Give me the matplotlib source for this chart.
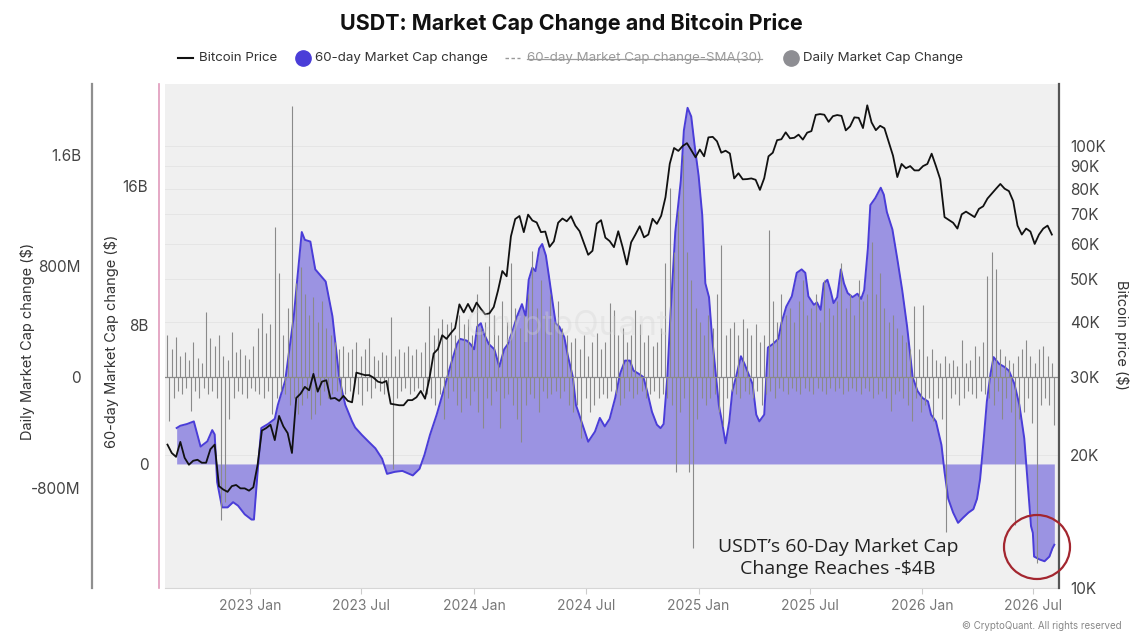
import matplotlib
matplotlib.use("Agg")
import matplotlib.pyplot as plt
import pandas as pd
import numpy as np
from matplotlib.lines import Line2D
from matplotlib.patches import Ellipse
from matplotlib.ticker import NullLocator
from matplotlib.transforms import blended_transform_factory

plt.rcParams['font.family'] = ['Inter', 'DejaVu Sans']

# ---------------- DATA ----------------
# Weekly Bitcoin price (USD thousands), starting 2022-08-19, every 7 days
btc_start = "2022-08-19"
btc_price_k = [
    # 2022
    21.1, 20.2, 19.8, 21.4, 19.7, 19.0, 19.4, 19.5, 19.2, 19.2, 20.6, 21.1, 17.0, 16.7, 16.5, 17.0, 17.1, 16.8, 16.8, 16.6,
    # 2023
    16.9, 19.0, 22.7, 23.0, 23.4, 21.6, 24.5, 23.2, 22.4, 20.2, 26.9, 27.5, 28.5, 28.0, 30.5, 27.8, 29.3, 29.5, 26.8, 26.9,
    26.5, 27.2, 26.5, 26.3, 30.7, 30.5, 30.3, 30.3, 29.9, 29.3, 29.1, 29.4, 26.1, 26.0, 25.9, 25.9, 26.6, 26.6, 27.0, 27.9,
    26.8, 29.7, 33.9, 34.7, 37.3, 36.6, 37.7, 38.7, 43.8, 42.0, 43.9, 42.1,
    # 2024
    44.2, 42.8, 41.6, 41.8, 43.2, 47.1, 52.1, 50.7, 62.4, 68.3, 69.4, 63.8, 69.9, 67.8, 67.1, 63.8, 64.0, 59.1, 60.8, 67.0,
    68.5, 67.5, 69.3, 66.0, 64.1, 60.3, 56.7, 57.9, 66.7, 67.9, 62.0, 60.9, 59.0, 64.1, 59.1, 53.9, 60.5, 63.0, 65.8, 62.1,
    63.0, 68.4, 66.6, 69.5, 76.5, 91.1, 98.9, 97.4, 99.9, 101.4, 97.8, 94.2,
    # 2025
    98.1, 94.7, 104.5, 104.8, 102.4, 96.5, 97.5, 96.1, 84.4, 86.7, 84.0, 84.1, 84.4, 83.8, 79.5, 84.5, 94.7, 96.5, 103.0, 103.5,
    107.3, 104.0, 104.3, 106.0, 103.3, 107.1, 108.0, 117.5, 118.0, 117.6, 113.3, 116.7, 117.4, 116.9, 108.4, 110.7, 116.0, 115.7, 109.7, 123.5,
    113.0, 108.5, 111.0, 109.6, 102.0, 95.0, 85.0, 91.0, 89.0, 90.0, 88.0, 88.0,
    # 2026
    90.0, 91.0, 96.0, 90.0, 84.0, 69.0, 68.0, 67.0, 65.0, 70.0, 71.0, 70.0, 69.0, 72.0, 73.0, 76.0, 78.0, 80.0, 82.0, 80.0,
    79.0, 75.0, 66.0, 63.0, 65.0, 64.0, 60.0, 63.0, 65.0, 66.0, 63.0,
]

# Daily market cap change (USD millions): largest inflow / outflow bar of each week
daily_up_m = [
    300, 200, 290, 150, 180, 120, 250, 140, 100, 470, 280, 220, 300, 150, 120, 325, 180, 200, 160, 130,
    220, 350, 460, 320, 380, 1080, 750, 300, 500, 1950, 680, 790, 600, 450, 580, 400, 550, 350, 300, 250,
    200, 220, 180, 200, 250, 150, 200, 280, 150, 120, 180, 160, 435, 150, 200, 180, 220, 160, 200, 180,
    250, 510, 300, 350, 420, 380, 400, 300, 450, 380, 420, 300, 600, 350, 400, 800, 450, 300, 550, 400,
    820, 500, 350, 450, 600, 910, 500, 700, 450, 600, 400, 550, 350, 300, 250, 280, 200, 300, 150, 250,
    320, 200, 250, 530, 480, 300, 350, 250, 300, 480, 380, 250, 300, 220, 250, 350, 825, 1360, 900, 1200,
    1600, 900, 700, 500, 400, 300, 450, 350, 600, 950, 300, 350, 400, 300, 420, 350, 300, 380, 250, 300,
    1060, 550, 400, 600, 450, 500, 400, 550, 700, 450, 500, 600, 400, 700, 500, 450, 550, 825, 500, 600,
    450, 700, 550, 600, 970, 600, 750, 500, 400, 450, 350, 300, 250, 200, 510, 200, 520, 150, 200, 120,
    100, 150, 100, 120, 80, 270, 100, 120, 220, 150, 250, 730, 900, 780, 200, 150, 120, 100, 150, 200,
    270, 150, 100, 200, 220, 150, 100,
]
daily_down_m = [
    -320, -150, -100, -120, -80, -245, -100, -150, -80, -120, -100, -150, -1030, -900, -300, -150, -100, -120, -150, -80,
    -100, -120, -150, -100, -270, -150, -100, -120, -200, -150, -270, -200, -150, -300, -270, -200, -100, -150, -120, -100,
    -150, -120, -100, -80, -120, -200, -100, -150, -80, -100, -120, -100, -660, -150, -100, -80, -120, -100, -80, -100,
    -120, -150, -200, -120, -300, -150, -100, -200, -250, -150, -200, -100, -250, -370, -150, -200, -100, -370, -150, -120,
    -200, -300, -465, -200, -120, -150, -250, -100, -150, -120, -100, -150, -100, -200, -250, -200, -440, -150, -250, -200,
    -150, -120, -150, -100, -120, -200, -150, -100, -150, -120, -100, -150, -120, -100, -150, -120, -150, -200, -685, -250,
    -150, -685, -1230, -300, -150, -200, -150, -120, -250, -350, -150, -100, -120, -150, -100, -120, -150, -100, -200, -120,
    -100, -150, -80, -100, -120, -80, -100, -120, -80, -100, -120, -80, -100, -120, -80, -100, -80, -120, -100, -80,
    -100, -120, -80, -100, -150, -120, -100, -150, -245, -120, -100, -150, -200, -320, -150, -250, -200, -150, -320, -150,
    -300, -1120, -150, -120, -200, -150, -100, -120, -150, -100, -120, -150, -200, -100, -300, -150, -250, -1070, -300, -250,
    -150, -330, -1340, -200, -150, -200, -345,
]

# 60-day market cap change (USD billions)
mcap60_dates = [
    "2022-09-03", "2022-09-09", "2022-09-20", "2022-10-01", "2022-10-12", "2022-10-23", "2022-10-31", "2022-11-04",
    "2022-11-08", "2022-11-16", "2022-11-25", "2022-12-04", "2022-12-12", "2022-12-23", "2023-01-03", "2023-01-07",
    "2023-01-14", "2023-01-19", "2023-01-30", "2023-02-10", "2023-02-15", "2023-02-27", "2023-03-13", "2023-03-18",
    "2023-03-26", "2023-03-31", "2023-04-09", "2023-04-17", "2023-05-04", "2023-05-15", "2023-05-20", "2023-05-26",
    "2023-06-01", "2023-06-05", "2023-06-16", "2023-06-21", "2023-07-02", "2023-07-13", "2023-07-24", "2023-08-04",
    "2023-08-12", "2023-08-25", "2023-09-06", "2023-09-23", "2023-10-04", "2023-10-12", "2023-10-21", "2023-11-01",
    "2023-11-12", "2023-11-23", "2023-12-04", "2023-12-09", "2023-12-20", "2023-12-26", "2024-01-01", "2024-01-06",
    "2024-01-12", "2024-01-17", "2024-01-25", "2024-02-03", "2024-02-11", "2024-02-19", "2024-02-25", "2024-03-04",
    "2024-03-11", "2024-03-19", "2024-03-25", "2024-03-30", "2024-04-05", "2024-04-10", "2024-04-16", "2024-04-21",
    "2024-04-27", "2024-05-02", "2024-05-08", "2024-05-13", "2024-05-19", "2024-05-27", "2024-06-02", "2024-06-10",
    "2024-06-15", "2024-06-24", "2024-07-05", "2024-07-16", "2024-07-24", "2024-08-01", "2024-08-09", "2024-08-18",
    "2024-08-26", "2024-09-03", "2024-09-11", "2024-09-17", "2024-09-25", "2024-10-03", "2024-10-09", "2024-10-17",
    "2024-10-25", "2024-10-31", "2024-11-05", "2024-11-11", "2024-11-16", "2024-11-24", "2024-12-03", "2024-12-08",
    "2024-12-14", "2024-12-20", "2024-12-26", "2025-01-01", "2025-01-07", "2025-01-12", "2025-01-18", "2025-01-23",
    "2025-01-29", "2025-02-03", "2025-02-09", "2025-02-14", "2025-02-20", "2025-02-25", "2025-03-03", "2025-03-11",
    "2025-03-17", "2025-03-22", "2025-03-30", "2025-04-05", "2025-04-10", "2025-04-18", "2025-04-24", "2025-05-02",
    "2025-05-11", "2025-05-16", "2025-05-24", "2025-06-02", "2025-06-10", "2025-06-18", "2025-06-24", "2025-06-29",
    "2025-07-08", "2025-07-13", "2025-07-19", "2025-07-24", "2025-07-30", "2025-08-04", "2025-08-09", "2025-08-15",
    "2025-08-21", "2025-08-26", "2025-09-01", "2025-09-09", "2025-09-17", "2025-09-23", "2025-09-28", "2025-10-04",
    "2025-10-08", "2025-10-16", "2025-10-25", "2025-10-30", "2025-11-04", "2025-11-13", "2025-11-21", "2025-11-29",
    "2025-12-07", "2025-12-16", "2025-12-24", "2026-01-01", "2026-01-10", "2026-01-15", "2026-01-23", "2026-02-01",
    "2026-02-06", "2026-02-12", "2026-02-20", "2026-02-28", "2026-03-08", "2026-03-17", "2026-03-25", "2026-03-31",
    "2026-04-05", "2026-04-11", "2026-04-16", "2026-04-22", "2026-04-27", "2026-05-06", "2026-05-14", "2026-05-22",
    "2026-05-31", "2026-06-08", "2026-06-16", "2026-06-22", "2026-06-27", "2026-06-30", "2026-07-02", "2026-07-11",
    "2026-07-19", "2026-07-27", "2026-08-01", "2026-08-04",
]
mcap60_bn = [
    2.07, 2.2, 2.3, 2.45, 1.0, 1.3, 1.95, 1.7,
    -1.04, -2.5, -2.5, -2.2, -2.4, -2.9, -3.2, -3.2,
    0.0, 2.07, 2.3, 2.6, 3.4, 4.8, 8.5, 10.4,
    13.35, 12.9, 12.8, 11.2, 10.5, 8.5, 6.9, 5.0,
    4.0, 3.4, 2.45, 2.1, 1.67, 1.28, 0.9, 0.3,
    -0.57, -0.45, -0.4, -0.66, -0.28, 0.52, 1.67, 2.84,
    4.2, 5.6, 6.9, 7.2, 7.1, 6.9, 6.6, 7.9,
    8.1, 7.5, 6.9, 6.6, 5.6, 6.6, 6.9, 7.7,
    8.5, 9.2, 8.5, 10.6, 11.3, 11.1, 12.4, 12.66,
    12.0, 10.8, 9.3, 8.1, 7.9, 7.3, 6.2, 5.0,
    3.4, 2.45, 1.28, 1.86, 2.65, 2.16, 2.6, 3.8,
    5.2, 5.95, 5.95, 5.37, 5.2, 5.0, 4.2, 3.0,
    2.26, 2.06, 2.3, 5.0, 8.5, 13.35, 16.3, 19.2,
    20.5, 20.0, 18.2, 16.6, 14.3, 10.4, 9.6, 7.3,
    5.2, 3.4, 2.26, 1.19, 2.45, 4.2, 5.0, 6.2,
    5.75, 5.3, 4.6, 2.84, 2.45, 2.84, 6.7, 6.9,
    7.2, 8.1, 9.06, 9.65, 11.0, 11.2, 11.0, 9.65,
    9.16, 9.3, 8.87, 10.4, 10.6, 10.0, 9.26, 9.6,
    11.2, 10.4, 9.84, 9.6, 9.8, 9.5, 10.0, 12.4,
    14.9, 15.3, 15.9, 15.5, 14.5, 13.5, 11.8, 10.0,
    7.9, 5.0, 4.2, 3.8, 3.6, 2.84, 2.45, 1.09,
    -0.46, -2.0, -2.8, -3.39, -3.1, -2.8, -2.6, -2.0,
    -0.86, 1.47, 3.6, 5.2, 6.15, 5.76, 5.6, 5.37,
    4.6, 3.4, 1.47, -1.25, -3.58, -3.97, -5.33, -5.5,
    -5.6, -5.33, -4.85, -4.65,
]

x_tick_dates = ["2023-01-01", "2023-07-01", "2024-01-01", "2024-07-01",
                "2025-01-01", "2025-07-01", "2026-01-01", "2026-07-01"]
x_tick_labels = ["2023 Jan", "2023 Jul", "2024 Jan", "2024 Jul",
                 "2025 Jan", "2025 Jul", "2026 Jan", "2026 Jul"]
price_ticks = [10e3, 20e3, 30e3, 40e3, 50e3, 60e3, 70e3, 80e3, 90e3, 100e3]
price_tick_labels = ["10K", "20K", "30K", "40K", "50K", "60K", "70K", "80K", "90K", "100K"]
daily_ticks = [-800e6, 0, 800e6, 1.6e9]
daily_tick_labels = ["-800M", "0", "800M", "1.6B"]
mcap_ticks = [0, 8e9, 16e9]
mcap_tick_labels = ["0", "8B", "16B"]

# ---------------- FIGURE ----------------
W, H = 1134, 637
fig = plt.figure(figsize=(W / 100, H / 100), dpi=100)
fig.patch.set_facecolor("white")

def fx(px):
    return px / W

def fy(py):
    return 1 - py / H

L, R, T, B = 165, 1058, 84, 588
ax60 = fig.add_axes([fx(L), fy(B), (R - L) / W, (B - T) / H])
ax60.set_facecolor("#f0f0f0")
axd = ax60.twinx()
axp = ax60.twinx()

btc_dates = pd.date_range(btc_start, periods=len(btc_price_k), freq="7D")
up_dates = pd.date_range(btc_start, periods=len(daily_up_m), freq="7D")
down_dates = up_dates + pd.Timedelta(days=3)
m_dates = pd.to_datetime(mcap60_dates)
m_vals = np.array(mcap60_bn) * 1e9

# 60-day fill
PURPLE_FILL = "#9b93e2"
PURPLE_LINE = "#4a3dd8"
ax60.fill_between(m_dates, 0, m_vals, color=PURPLE_FILL, lw=0, zorder=2)
ax60.plot(m_dates, m_vals, color=PURPLE_LINE, lw=1.4, zorder=3)
ax60.set_ylim(-7.14e9, 21.87e9)

# Daily bars
GREY = "#8a8a8a"
axd.vlines(up_dates, 0, np.array(daily_up_m) * 1e6, color=GREY, lw=0.8, zorder=2)
axd.vlines(down_dates, np.array(daily_down_m) * 1e6, 0, color=GREY, lw=0.8, zorder=2)
axd.axhline(0, color=GREY, lw=0.9, zorder=1)
axd.set_ylim(-1.521e9, 2.112e9)

# Bitcoin price
axp.plot(btc_dates, np.array(btc_price_k) * 1e3, color="#111111", lw=1.3, zorder=4)
axp.set_yscale("log")
axp.set_ylim(10e3, 138e3)
axp.set_yticks(price_ticks)
axp.set_yticklabels(price_tick_labels)
axp.yaxis.set_minor_locator(NullLocator())

# faint horizontal grid on price ticks, behind fill
tr = blended_transform_factory(ax60.transAxes, axp.transData)
for v in price_ticks[1:]:
    ax60.plot([0, 1], [v, v], transform=tr, color="#e5e5e5", lw=0.7, zorder=1)

# x axis
ax60.set_xlim(pd.Timestamp("2022-08-15"), pd.Timestamp("2026-08-10"))
ax60.set_xticks(pd.to_datetime(x_tick_dates))
ax60.set_xticklabels(x_tick_labels)
ax60.tick_params(axis="x", colors="#cccccc", labelcolor="#777777", labelsize=10, length=4, pad=4)

# Spines & y axes
for a in (ax60, axd, axp):
    for s in a.spines.values():
        s.set_visible(False)
ax60.spines["bottom"].set_visible(True)
ax60.spines["bottom"].set_color("#d6d6d6")

ax60.spines["left"].set_visible(True)
ax60.spines["left"].set_position(("outward", 4))
ax60.spines["left"].set_color("#e09abb")
ax60.spines["left"].set_linewidth(1.2)
ax60.set_yticks(mcap_ticks)
ax60.set_yticklabels(mcap_tick_labels)
ax60.tick_params(axis="y", length=0, pad=8, labelsize=11, labelcolor="#444444")
ax60.set_ylabel("60-day Market Cap change ($)", fontsize=10.5, color="#333333")
ax60.yaxis.set_label_coords(-0.0515, 0.49)

axd.yaxis.set_label_position("left")
axd.yaxis.tick_left()
axd.spines["left"].set_visible(True)
axd.spines["left"].set_position(("outward", 52.5))
axd.spines["left"].set_color("#8f8f8f")
axd.spines["left"].set_linewidth(1.6)
axd.set_yticks(daily_ticks)
axd.set_yticklabels(daily_tick_labels)
axd.tick_params(axis="y", length=0, pad=8, labelsize=11, labelcolor="#444444")
axd.set_ylabel("Daily Market Cap change ($)", fontsize=10.5, color="#333333")
axd.yaxis.set_label_coords(-0.146, 0.49)

axp.spines["right"].set_visible(True)
axp.spines["right"].set_position(("outward", 0.5))
axp.spines["right"].set_color("#555555")
axp.spines["right"].set_linewidth(1.6)
axp.tick_params(axis="y", length=0, pad=8, labelsize=11, labelcolor="#444444")
axp.set_ylabel("Bitcoin price ($)", fontsize=10.5, color="#333333", rotation=270)
axp.yaxis.set_label_coords(1.0796, 0.502)

# watermark
axp.text(0.45, 0.52, "CryptoQuant", transform=axp.transAxes, fontsize=24,
         color="#d4d4d4", alpha=0.35, ha="center", va="center", zorder=5)

# Title
fig.text(fx(571), fy(24), "USDT: Market Cap Change and Bitcoin Price", ha="center", va="center",
         fontsize=15.5, fontweight="bold", color="#111111")

# Legend (manual)
ly = fy(58)
LFS = 9.6
fig.add_artist(Line2D([fx(178), fx(193)], [ly, ly], color="#111111", lw=1.5, transform=fig.transFigure))
fig.text(fx(199), ly, "Bitcoin Price", va="center", ha="left", fontsize=LFS, color="#333333")
fig.add_artist(Line2D([fx(303)], [ly], marker="o", ms=11, color=PURPLE_LINE, lw=0, transform=fig.transFigure))
fig.text(fx(315), ly, "60-day Market Cap change", va="center", ha="left", fontsize=LFS, color="#333333")
fig.add_artist(Line2D([fx(505), fx(520)], [ly, ly], color="#999999", lw=1.0, ls=(0, (2.5, 1.8)),
                      transform=fig.transFigure))
t_sma = fig.text(fx(527), ly, "60-day Market Cap change-SMA(30)", va="center", ha="left",
                 fontsize=LFS, color="#9a9a9a")
fig.add_artist(Line2D([fx(791)], [ly], marker="o", ms=11, color="#8e8e93", lw=0, transform=fig.transFigure))
fig.text(fx(803), ly, "Daily Market Cap Change", va="center", ha="left", fontsize=LFS, color="#333333")

fig.canvas.draw()
rend = fig.canvas.get_renderer()
bb = t_sma.get_window_extent(rend)
inv = fig.transFigure.inverted()
(x0, y0), (x1, y1) = inv.transform([[bb.x0, bb.y0], [bb.x1, bb.y1]])
ym = y0 + (y1 - y0) * 0.45
fig.add_artist(Line2D([x0, x1], [ym, ym], color="#9a9a9a", lw=0.9, transform=fig.transFigure))

# Annotation
fig.text(fx(838), fy(558), "USDT\u2019s 60-Day Market Cap\nChange Reaches -$4B", ha="center", va="center",
         fontsize=14, color="#222222", linespacing=1.25, family=["Open Sans", "DejaVu Sans"])
fig.add_artist(Ellipse((fx(1037), fy(547)), 66 / W, 64 / H, fill=False, edgecolor="#a3262f", lw=1.6,
                       transform=fig.transFigure))

# Footer
fig.text(fx(1122), fy(626), "\u00a9 CryptoQuant. All rights reserved", ha="right", va="center",
         fontsize=7, color="#888888")

fig.savefig("out.png", dpi=100)
